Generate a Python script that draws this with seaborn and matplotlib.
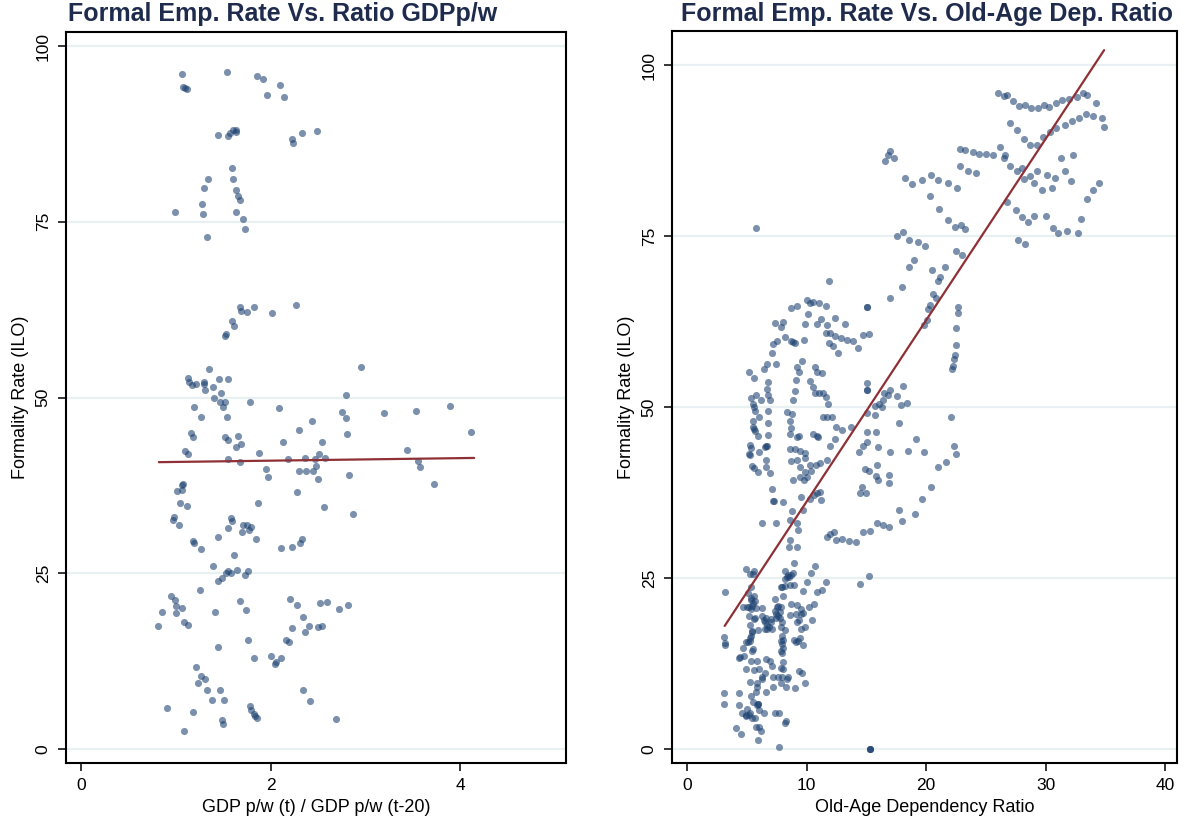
import matplotlib
matplotlib.use("Agg")
import matplotlib.pyplot as plt
import seaborn as sns
import pandas as pd

# ---------------- data ----------------
left_pts = [
    # top cluster
    (1.07,96.0),(1.08,94.2),(1.10,94.0),(1.12,93.9),(1.54,96.3),(1.86,95.7),(1.92,95.3),(2.10,94.5),(1.96,93.0),(2.14,92.7),
    (1.45,87.3),(1.57,87.6),(1.60,88.0),(1.64,88.0),(1.63,87.8),(1.55,87.2),(2.23,86.8),(2.24,86.2),(2.33,87.6),(2.49,87.9),
    (0.99,76.4),(1.34,81.1),(1.30,79.8),(1.28,77.5),(1.29,76.1),(1.33,72.8),(1.59,82.6),(1.60,81.1),(1.64,79.5),(1.66,78.7),
    (1.68,78.1),(1.63,76.4),(1.71,75.4),(1.73,74.0),
    (1.68,62.9),(1.69,62.3),(1.83,62.9),(1.75,62.2),(2.27,63.2),(2.02,62.0),(1.59,60.9),(1.61,60.2),(1.53,59.0),(1.52,58.7),
    # middle cluster
    (1.35,54.1),(1.13,52.8),(1.14,52.2),(1.17,51.8),(1.21,51.9),(1.30,52.2),(1.30,51.9),(1.46,52.6),(1.55,52.6),(1.39,51.5),
    (1.31,51.1),(1.48,50.6),(1.40,49.9),(1.47,49.4),(1.52,49.4),(1.50,48.6),(1.19,48.6),(1.78,49.4),(1.27,47.2),(1.54,47.2),
    (2.09,48.5),(2.96,54.3),(2.80,50.4),(2.75,47.9),(2.80,47.1),(2.81,44.8),(3.20,47.8),(2.44,46.7),(2.30,45.4),(2.54,43.7),
    (2.13,43.7),(1.16,45.0),(1.18,44.4),(1.52,44.4),(1.55,44.0),(1.66,44.5),(1.69,43.4),(1.64,43.0),(1.10,42.4),(1.13,42.0),
    (1.55,41.3),(1.68,40.8),(1.88,42.1),(2.18,41.3),(2.36,41.4),(2.47,41.3),(2.51,42.0),(2.58,41.4),(2.48,40.3),(2.30,39.5),
    (2.37,39.5),(2.45,39.5),(2.50,38.4),(1.95,39.8),(1.97,38.7),(2.83,39.0),(1.08,37.7),(1.07,37.6),(1.06,36.8),(1.01,36.7),
    (1.04,35.0),(1.12,34.6),(2.28,36.6),(1.87,35.0),(2.56,34.4),(2.87,33.4),(0.98,33.0),(0.97,32.6),(1.03,31.9),(1.58,32.9),
    (1.59,32.4),(1.55,31.4),(1.71,31.9),(1.75,31.9),(1.79,31.6),(1.77,31.2),(1.70,30.9),(1.44,30.2),(1.85,29.9),(1.18,29.6),
    (1.19,29.3),(1.27,28.4),(2.11,28.6),(2.23,28.7),(2.31,29.3),(2.33,29.9),
    (3.54,48.1),(3.89,48.8),(4.12,45.1),(3.44,42.5),(3.56,41.0),(3.58,40.1),(3.73,37.7),
    # lower cluster
    (0.81,17.5),(0.85,19.5),(0.91,5.8),(0.95,21.8),(0.99,21.2),(1.00,20.3),(1.00,19.3),(1.06,20.1),(1.09,18.1),(1.13,17.6),
    (1.09,2.6),(1.18,5.3),(1.21,11.7),(1.23,9.4),(1.27,10.4),(1.31,10.0),(1.33,8.4),(1.39,26.0),(1.41,19.5),(1.44,14.5),
    (1.45,23.9),(1.49,24.3),(1.53,25.0),(1.55,25.3),(1.49,4.1),(1.50,3.6),(1.47,8.4),(1.51,7.0),(1.58,25.0),(1.61,27.6),
    (1.65,25.5),(1.68,21.1),(1.74,19.8),(1.76,15.5),(1.76,25.3),(1.73,24.8),(1.78,6.1),(1.79,5.5),(1.82,5.0),(1.84,4.7),
    (1.86,4.4),(1.83,12.9),(2.00,13.2),(2.05,12.1),(2.06,12.4),(2.11,12.9),(2.16,15.5),(2.20,15.2),(2.21,21.3),(2.28,20.5),
    (2.23,17.2),(2.34,8.4),(2.34,18.8),(2.36,16.6),(2.42,6.8),(2.41,17.5),(2.50,17.4),(2.52,20.8),(2.54,17.5),(2.60,20.9),
    (2.72,19.9),(2.69,4.3),(2.82,20.5),(1.26,22.6),(1.38,7.0),
]

right_pts = [
    # lower-left (x 3-16, y 0-28)
    (3.15,23.0),(3.13,16.4),(3.15,15.5),(3.15,15.2),(3.09,8.2),(3.12,6.6),(4.07,3.1),(4.52,2.2),(4.35,8.2),(4.38,6.5),
    (4.58,5.3),(4.94,4.9),(4.90,4.8),(5.30,5.3),(5.40,4.6),(5.20,5.0),(5.00,5.9),(5.65,4.6),(5.75,3.2),(6.00,3.2),
    (6.20,2.6),(5.97,1.3),(5.90,6.6),(5.87,6.4),(5.97,6.6),(6.05,5.7),(5.56,6.8),(6.40,5.3),(7.34,5.3),(7.67,5.2),
    (8.30,4.1),(8.20,3.8),(7.67,0.3),(15.3,0.0),(15.3,0.0),(15.3,0.0),(5.36,7.8),(5.80,8.4),(5.85,9.1),(5.88,9.7),
    (5.27,9.8),(6.60,8.3),(7.20,9.1),(7.84,9.6),(8.30,9.0),(9.07,8.9),(9.90,9.7),(9.60,11.1),(9.34,11.4),(8.45,10.5),
    (8.40,10.2),(7.95,10.5),(7.60,10.5),(7.20,10.5),(8.06,11.7),(7.86,11.8),(6.30,10.5),(6.25,10.3),(6.50,11.1),(6.03,11.7),
    (5.64,11.6),(4.94,11.7),(5.38,12.8),(5.83,12.9),(6.64,13.2),(6.95,12.8),(7.14,12.1),(8.03,12.7),(4.35,13.3),(4.46,13.4),
    (4.80,13.6),(4.69,14.7),(5.44,14.4),(5.52,14.6),(5.27,15.8),(5.13,15.6),(4.90,15.7),(5.24,16.2),(5.33,16.5),(5.44,17.2),
    (5.40,17.1),(5.30,18.1),(5.92,17.4),(5.19,19.5),(5.22,20.7),(5.05,20.8),(5.61,19.0),(4.69,20.7),(5.08,22.8),(5.39,23.7),
    (5.36,22.1),(5.33,21.8),(5.50,21.3),(5.44,20.9),(5.36,20.4),(5.78,20.6),(6.28,20.6),(5.67,19.1),(6.30,19.5),(6.47,18.9),
    (6.64,19.1),(6.56,18.5),(6.67,18.1),(6.50,17.6),(6.72,17.6),(6.83,17.8),(7.03,18.5),(7.06,19.0),(7.08,17.5),(7.42,19.7),
    (7.48,19.1),(7.62,19.4),(7.37,20.2),(7.50,20.8),(7.60,20.9),(7.86,20.8),(7.78,20.1),(7.81,19.1),(7.92,18.5),(7.84,17.9),
    (8.17,17.4),(7.95,16.5),(7.86,15.8),(7.95,15.4),(8.03,15.9),(8.00,14.8),(7.84,14.3),(7.95,14.0),(7.37,21.9),(8.03,22.4),
    (7.95,23.7),(7.84,23.7),(8.17,23.9),(8.60,24.0),(8.93,24.0),(8.23,26.1),(8.45,25.5),(8.40,25.2),(8.56,25.1),(8.73,25.4),
    (8.84,25.8),(8.23,24.9),(8.93,27.2),(4.94,26.3),(5.27,25.6),(5.64,26.0),(5.50,25.6),(10.7,26.7),(10.35,25.8),(10.05,24.4),
    (11.6,24.4),(9.70,23.1),(10.9,22.9),(11.3,23.2),(8.73,21.2),(9.23,21.0),(10.2,20.8),(10.6,21.2),(8.65,19.6),(9.15,19.8),
    (9.57,20.5),(9.70,19.9),(9.55,19.7),(9.20,18.6),(9.37,18.9),(10.46,18.9),(9.87,17.9),(9.54,17.5),(8.93,15.9),(9.32,15.8),
    (9.46,16.3),(9.68,15.2),(9.10,15.6),(14.5,24.2),(15.2,25.3),(5.61,22.3),(5.69,21.6),
    # middle (x 5-24, y 29-66)
    (10.3,65.2),(10.57,65.4),(11.07,65.2),(11.6,64.8),(15.1,64.6),(15.1,64.6),(22.7,64.6),(22.65,63.7),(22.5,61.6),(22.5,59.1),
    (22.4,57.6),(22.35,57.1),(22.15,55.6),(22.25,56.0),(20.05,62.8),(19.86,62.0),(20.2,64.3),(22.1,48.6),(22.35,44.3),(22.5,43.2),
    (21.7,42.0),(21.0,41.3),(20.4,38.3),(19.7,36.5),(19.1,34.4),(18.0,33.4),(17.7,34.9),(16.9,32.5),(16.4,32.7),(15.9,33.1),
    (15.3,31.9),(14.7,31.8),(14.1,30.2),(13.55,30.4),(18.5,43.6),(19.8,43.5),(19.2,45.3),(17.7,47.6),(17.0,43.5),(16.9,38.9),
    (16.0,39.3),(15.8,39.9),(15.0,37.5),(14.6,38.3),(14.5,37.5),(14.9,40.9),(15.2,40.7),(15.9,41.5),(16.9,40.1),(14.7,44.3),
    (14.4,43.4),(15.1,44.9),(16.0,44.2),(15.1,46.4),(15.8,46.4),(13.7,47.1),(13.0,46.7),(12.5,47.1),(12.4,45.3),(12.0,44.3),
    (11.4,48.6),(11.75,48.5),(12.1,48.6),(10.85,45.7),(10.5,46.0),(10.95,45.6),(15.1,49.1),(15.7,50.1),(16.3,50.0),(16.1,50.4),
    (15.7,48.8),(16.4,51.0),(16.8,51.7),(17.0,52.5),(16.5,52.0),(17.6,51.6),(17.9,50.3),(18.4,50.6),(18.05,53.1),(15.1,53.5),
    (15.1,52.5),(15.1,52.5),(14.75,60.5),(15.2,60.7),(14.3,58.7),(13.9,59.6),(13.4,59.8),(12.9,60.1),(12.4,60.4),(12.0,60.8),
    (11.6,60.9),(12.6,57.9),(12.25,58.9),(11.9,59.3),(13.2,62.2),(12.4,63.1),(11.7,62.0),(10.9,62.1),(11.24,62.9),(9.9,62.1),
    (10.1,63.6),(7.34,62.3),(8.06,62.5),(7.87,61.7),(8.17,60.3),(8.7,59.6),(9.0,59.4),(8.85,59.5),(9.76,59.8),(7.22,59.2),
    (7.5,59.7),(7.08,57.9),(7.45,56.3),(6.7,56.3),(6.4,55.6),(5.2,55.2),(5.6,54.2),(9.6,56.7),(9.2,55.9),(9.4,55.2),
    (9.1,53.9),(9.0,52.3),(8.9,51.0),(8.8,49.0),(8.6,47.9),(8.4,49.3),(10.7,55.9),(10.3,53.8),(10.9,55.2),(11.3,55.0),
    (10.5,53.0),(10.7,52.0),(11.0,52.0),(11.4,52.1),(11.6,51.5),(11.8,50.5),(6.75,53.6),(6.7,52.6),(6.8,51.8),(6.95,51.0),
    (6.78,49.5),(6.8,47.7),(6.8,45.9),(6.7,44.3),(6.6,42.3),(6.6,41.3),(6.95,40.3),(7.09,38.0),(7.22,36.3),(7.28,36.2),
    (8.06,36.1),(5.77,51.8),(5.38,51.3),(6.17,51.1),(5.58,50.0),(5.5,50.4),(5.72,49.5),(6.0,48.6),(5.55,47.9),(5.5,47.1),
    (5.7,46.5),(5.6,46.8),(5.9,45.8),(5.27,44.5),(5.35,44.0),(5.2,43.2),(5.3,43.0),(5.45,41.4),(5.6,41.1),(5.97,40.5),
    (6.0,43.5),(6.6,44.3),(6.5,44.1),(8.7,47.0),(8.6,46.1),(9.2,45.6),(9.4,45.7),(8.6,43.8),(9.0,43.9),(9.45,43.6),
    (9.9,43.3),(8.7,42.1),(9.2,42.3),(9.9,42.6),(10.3,41.6),(10.8,41.6),(11.1,41.8),(11.7,42.2),(9.45,41.3),(9.85,40.5),
    (8.9,39.3),(9.45,39.8),(9.8,39.3),(10.0,39.8),(10.4,40.6),(9.5,36.9),(10.3,36.6),(10.6,37.2),(10.9,37.5),(11.1,37.6),
    (11.2,36.4),(9.7,34.9),(8.8,34.8),(8.6,33.5),(9.2,33.1),(9.3,32.0),(8.6,30.6),(8.5,29.6),(9.2,29.6),(11.7,31.0),
    (12.0,31.4),(12.3,31.8),(12.5,30.6),(13.0,30.7),(6.25,33.1),(7.45,33.0),(5.8,76.2),
    (9.2,64.8),(8.7,64.5),(11.9,68.5),(10.0,65.6),
    # upper (x 16-35, y 64-97)
    (26.0,96.0),(26.5,95.5),(26.8,95.7),(27.3,94.8),(27.8,94.0),(28.3,94.2),(28.8,93.8),(29.4,93.8),(29.9,94.2),(30.3,93.9),
    (30.9,94.5),(31.4,94.9),(32.0,95.0),(32.6,95.4),(33.1,96.0),(33.5,95.7),(34.2,94.5),
    (27.0,91.5),(27.6,90.5),(28.2,89.2),(28.7,88.4),(29.3,88.3),(29.8,89.5),(30.4,90.3),(30.9,90.8),(31.6,91.2),(32.2,91.8),
    (32.8,92.3),(33.4,92.8),(34.0,92.6),(34.7,92.3),(34.9,91.0),
    (28.0,85.0),(28.7,83.8),(29.3,84.5),(30.1,84.0),(30.8,83.5),(31.6,84.5),(32.1,83.0),(30.5,82.0),(31.3,86.5),(32.3,86.8),
    (26.5,86.5),(27.0,85.2),(27.6,84.5),(28.2,83.3),(29.0,82.8),(29.7,81.8),
    (29.0,78.0),(30.0,78.0),(30.6,76.2),(31.0,75.5),(31.8,75.8),(32.7,75.4),(33.0,77.5),(33.5,80.5),(34.0,81.8),(34.5,82.8),
    (26.8,80.0),(27.5,78.8),(28.0,77.8),(28.5,77.0),(27.7,74.5),(28.3,73.8),(26.2,88.0),(26.6,86.8),
    (16.8,86.8),(17.0,87.5),(17.3,86.5),(16.6,86.0),(18.2,83.5),(18.8,82.6),(19.7,83.2),(20.4,84.0),(21.0,83.2),(21.8,82.8),
    (22.6,82.0),(22.8,87.8),(23.3,87.6),(23.9,87.3),(24.4,87.0),(25.0,87.0),(25.6,86.8),(22.8,85.2),(23.5,84.5),(24.2,84.2),
    (20.3,80.8),(21.1,79.0),(21.8,77.3),(22.4,76.4),(22.9,76.6),(23.3,76.0),(17.6,75.0),(18.1,75.6),(18.6,74.4),(19.3,74.1),
    (19.9,73.5),(22.5,72.8),(23.0,72.2),(20.5,70.0),(21.0,68.5),(20.8,66.0),(20.3,65.0),(20.6,66.5),(21.2,69.0),(21.6,70.5),
    (17.0,66.0),(18.0,67.5),(18.6,70.5),(19.0,71.5),
]

left_x = [p[0] for p in left_pts]
left_y = [p[1] for p in left_pts]
right_x = [p[0] for p in right_pts]
right_y = [p[1] for p in right_pts]

left_fit_x = [0.82, 4.15]
left_fit_y = [40.8, 41.4]
right_fit_x = [3.15, 34.9]
right_fit_y = [18.0, 102.2]

left_xticks = [0, 2, 4]
right_xticks = [0, 10, 20, 30, 40]
yticks = [0, 25, 50, 75, 100]

left_title = "Formal Emp. Rate Vs. Ratio GDPp/w"
right_title = "Formal Emp. Rate Vs. Old-Age Dep. Ratio"
left_xlabel = "GDP p/w (t) / GDP p/w (t-20)"
right_xlabel = "Old-Age Dependency Ratio"
ylabel = "Formality Rate (ILO)"

# ---------------- style ----------------
sns.set_theme(style="white")
plt.rcParams['font.family'] = ['Liberation Sans', 'DejaVu Sans']
plt.rcParams['text.color'] = 'black'
plt.rcParams['axes.labelcolor'] = 'black'
plt.rcParams['xtick.color'] = 'black'
plt.rcParams['ytick.color'] = 'black'

W, H = 1185, 827
fig = plt.figure(figsize=(W / 100, H / 100), dpi=100)

def px_axes(x0, y0, x1, y1):
    return fig.add_axes([x0 / W, 1 - y1 / H, (x1 - x0) / W, (y1 - y0) / H])

axL = px_axes(66, 32, 566, 763)
axR = px_axes(672, 31, 1177, 763)

pt_color = '#1c4170'
fit_color = '#8e3035'
grid_color = '#e8f0f2'
title_color = '#1e2b4d'

def style_axis(ax, xticks, xlim, ylim, xlabel):
    ax.set_xlim(*xlim)
    ax.set_ylim(*ylim)
    ax.set_xticks(xticks)
    ax.set_yticks(yticks)
    ax.set_xticklabels([str(t) for t in xticks], fontsize=12.5, color='black')
    ax.set_yticklabels([str(t) for t in yticks], fontsize=12.5, rotation=90, va='center', color='black')
    for yv in yticks:
        ax.axhline(yv, color=grid_color, lw=1.6, zorder=0)
    for s in ax.spines.values():
        s.set_visible(True)
        s.set_color('black')
        s.set_linewidth(1.5)
    ax.tick_params(axis='both', direction='out', length=6, width=1.1, color='black',
                   pad=5, bottom=True, left=True)
    ax.set_xlabel(xlabel, fontsize=13, labelpad=4, color='black')
    ax.set_ylabel(ylabel, fontsize=13, labelpad=5, color='black')
    ax.grid(False)

dfL = pd.DataFrame({'x': left_x, 'y': left_y})
dfR = pd.DataFrame({'x': right_x, 'y': right_y})

sns.scatterplot(data=dfL, x='x', y='y', ax=axL, color=pt_color, alpha=0.58, s=26,
                linewidth=0, zorder=3)
sns.lineplot(x=left_fit_x, y=left_fit_y, ax=axL, color=fit_color, lw=1.6, zorder=4)
sns.scatterplot(data=dfR, x='x', y='y', ax=axR, color=pt_color, alpha=0.58, s=26,
                linewidth=0, zorder=3)
sns.lineplot(x=right_fit_x, y=right_fit_y, ax=axR, color=fit_color, lw=1.6, zorder=4)

style_axis(axL, left_xticks, (-0.16, 5.12), (-2.0, 102.0), left_xlabel)
style_axis(axR, right_xticks, (-1.26, 41.0), (-2.05, 105.0), right_xlabel)

fig.text(283 / W, 1 - 14 / H, left_title, ha='center', va='center', fontsize=18,
         fontweight='bold', color=title_color)
fig.text(927 / W, 1 - 14 / H, right_title, ha='center', va='center', fontsize=18,
         fontweight='bold', color=title_color)

fig.savefig('out.png', dpi=100, facecolor='white')
